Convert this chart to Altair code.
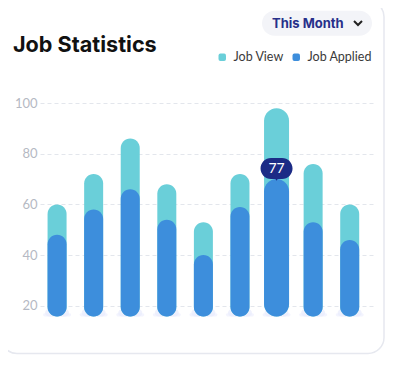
import altair as alt
import pandas as pd

categories = ["D1", "D2", "D3", "D4", "D5", "D6", "D7", "D8", "D9"]
job_view = [60, 72, 86, 68, 53, 72, 98, 76, 60]
job_applied = [48, 58, 66, 54, 40, 59, 70, 53, 46]
series_names = ["Job View", "Job Applied"]
series_colors = ["#6ACFD9", "#3D8EDC"]
y_ticks = [20, 40, 60, 80, 100]
highlight_cat = "D7"
badge_text = "77"
bar_base = 15.8
glow_top = 21
title_text = "Job Statistics"
button_text = "This Month"

df = pd.DataFrame({
    "cat": categories,
    "idx": list(range(len(categories))),
    "Job View": job_view,
    "Job Applied": job_applied,
})
one = pd.DataFrame({"a": [0]})

base = alt.Chart(df)
xenc = alt.X("idx:Q", scale=alt.Scale(domain=[-0.33, 8.5], nice=False, zero=False), axis=None)
yscale = alt.Scale(domain=[12, 104], nice=False, zero=False)
yaxis = alt.Axis(values=y_ticks, grid=True, gridDash=[4, 3], gridColor="#e3e6ec",
                 domain=False, ticks=False, labelPadding=3, labelFont="Lato",
                 labelFontSize=13, labelColor="#b5b9c3", title=None)

rounded_sq = "M -0.5,-1 L 0.5,-1 Q 1,-1 1,-0.5 L 1,0.5 Q 1,1 0.5,1 L -0.5,1 Q -1,1 -1,0.5 L -1,-0.5 Q -1,-1 -0.5,-1 Z"
pill = "M -0.344,-0.656 L 0.344,-0.656 A 0.656,0.656 0 0 1 0.344,0.656 L 0.07,0.656 L 0,0.76 L -0.07,0.656 L -0.344,0.656 A 0.656,0.656 0 0 1 -0.344,-0.656 Z"

color = alt.Color("series:N", sort=series_names,
                  scale=alt.Scale(domain=series_names, range=series_colors),
                  legend=alt.Legend(title=None, orient="none", legendX=176, legendY=-42,
                                    direction="horizontal", symbolType=rounded_sq,
                                    symbolSize=56, symbolStrokeWidth=0, gridAlign="none",
                                    labelFont="Lato", labelFontSize=12.5, labelColor="#3a3a3a",
                                    columnPadding=6, labelOffset=5, padding=0))

card = alt.Chart(one).mark_rect(cornerRadius=16, filled=False, stroke="#e6e8ef", strokeWidth=1.5).encode(
    x=alt.value(-39), x2=alt.value(344), y=alt.value(-92.2), y2=alt.value(260.5))

grid = base.mark_bar(opacity=0).encode(
    x=xenc, y=alt.Y("Job View:Q", scale=yscale, axis=yaxis))

glow1 = base.mark_bar(size=28, cornerRadius=14, color="#eef0fd", opacity=0.7, yOffset=10).encode(
    x=xenc, y=alt.datum(glow_top), y2=alt.datum(bar_base))
glow2 = base.mark_bar(size=24, cornerRadius=12, color="#e8ebfc", opacity=0.7, yOffset=6).encode(
    x=xenc, y=alt.datum(glow_top), y2=alt.datum(bar_base))

folded = base.transform_fold(series_names, as_=["series", "value"])

bars = folded.transform_filter(alt.datum.cat != highlight_cat).mark_bar(size=19, cornerRadius=9.5).encode(
    x=xenc, y=alt.Y("value:Q", scale=yscale), y2=alt.datum(bar_base), color=color)

hbars = folded.transform_filter(alt.datum.cat == highlight_cat).mark_bar(size=25, cornerRadius=12.5).encode(
    x=xenc, y=alt.Y("value:Q", scale=yscale), y2=alt.datum(bar_base), color=color)

hl = base.transform_filter(alt.datum.cat == highlight_cat)
badge = hl.mark_point(shape=pill, size=1024, filled=True, color="#1c2b86", opacity=1,
                      strokeWidth=0, yOffset=-10.6).encode(x=xenc, y=alt.Y("Job Applied:Q", scale=yscale))
badge_t = hl.mark_text(color="white", font="Lato", fontSize=14, baseline="middle",
                       yOffset=-10.6).encode(x=xenc, y=alt.Y("Job Applied:Q", scale=yscale),
                                             text=alt.value(badge_text))

title = alt.Chart(one).mark_text(text=title_text, font="Inter", fontWeight="bold", fontSize=21.6,
                                 color="#111111", align="left", baseline="alphabetic").encode(
    x=alt.value(-27), y=alt.value(-41.2))

button = alt.Chart(one).mark_rect(cornerRadius=12.5, color="#f3f4f8").encode(
    x=alt.value(222), x2=alt.value(332), y=alt.value(-82.2), y2=alt.value(-57.2))
button_t = alt.Chart(one).mark_text(text=button_text, font="Inter", fontWeight="bold", fontSize=13,
                                    color="#27308a", align="left", baseline="alphabetic").encode(
    x=alt.value(232), y=alt.value(-65))
chevron = alt.Chart(one).mark_point(shape="M -1,-0.5 L 0,0.5 L 1,-0.5", size=64, filled=False,
                                    strokeWidth=2, color="#222222", opacity=1).encode(
    x=alt.value(318), y=alt.value(-70))

chart = alt.layer(card, grid, glow1, glow2, bars, hbars, badge, badge_t, title, button, button_t, chevron).properties(
    width=333, height=233, background="white",
    padding={"left": 32, "top": 85, "right": 12, "bottom": 29},
    autosize=alt.AutoSizeParams(type="none"),
).configure_view(strokeWidth=0)

chart.save("out.html", embed_options={"renderer": "svg", "actions": False})
